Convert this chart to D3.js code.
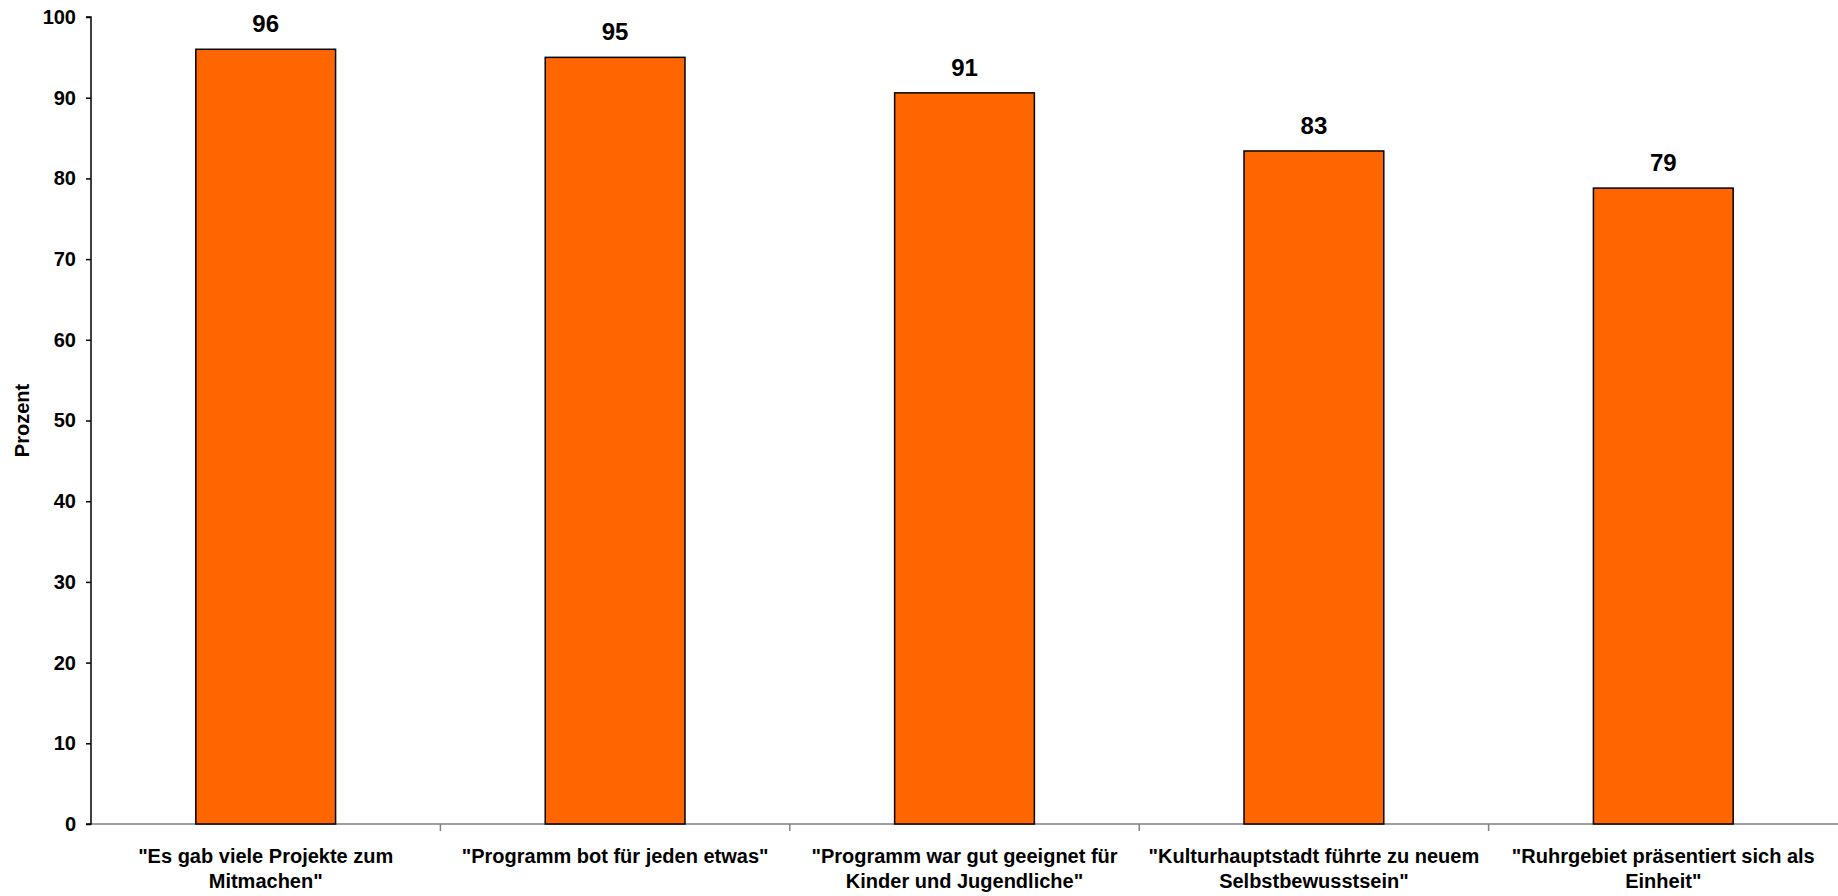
<!DOCTYPE html>
<html>
<head>
<meta charset="utf-8">
<script src="https://cdn.jsdelivr.net/npm/d3@7"></script>
<style>
  body { margin: 0; background: #fff; }
  text { font-family: "Liberation Sans", Arial, sans-serif; font-weight: bold; }
</style>
</head>
<body>
<svg id="BarChart"></svg>
<script>
// categories (line breaks as in the original)
var categories = [
    "\"Es gab viele Projekte zum\nMitmachen\"",
    "\"Programm bot für jeden etwas\"",
    "\"Programm war gut geeignet für\nKinder und Jugendliche\"",
    "\"Kulturhauptstadt führte zu neuem\nSelbstbewusstsein\"",
    "\"Ruhrgebiet präsentiert sich als\nEinheit\""
]
var values = [96, 95, 90.6, 83.4, 78.8]
var yTicks = [0, 10, 20, 30, 40, 50, 60, 70, 80, 90, 100]

var dataset = categories.map((c, i) => ({ category: c, value: values[i] }))

var dimensions = {
    width: 1838,
    height: 896,
    margin: {
        top: 17,
        bottom: 72,
        left: 91,
        right: 0
    }
}

var svg = d3.select("#BarChart")
            .attr("width", dimensions.width)
            .attr("height", dimensions.height)

var yScale = d3.scaleLinear()
               .domain([0, 100])
               .range([dimensions.height - dimensions.margin.bottom, dimensions.margin.top])

// full category slots (for boundary ticks and label centres)
var xSlots = d3.scaleBand()
               .domain(categories)
               .range([dimensions.margin.left, dimensions.width - dimensions.margin.right])
               .padding(0)

var xScale = d3.scaleBand()
               .domain(categories)
               .range([dimensions.margin.left, dimensions.width - dimensions.margin.right])
               .paddingInner(0.6)
               .paddingOuter(0.3)

var baseY = yScale(0)

// x axis line + boundary ticks
var xAxis = svg.append("g")
xAxis.append("line")
     .attr("x1", dimensions.margin.left)
     .attr("x2", dimensions.width - dimensions.margin.right)
     .attr("y1", baseY)
     .attr("y2", baseY)
     .attr("stroke", "#808080")
     .attr("stroke-width", 1.5)

xAxis.selectAll(".bound")
     .data(categories.slice(1))
     .enter()
     .append("line")
     .attr("x1", d => xSlots(d))
     .attr("x2", d => xSlots(d))
     .attr("y1", baseY)
     .attr("y2", baseY + 7)
     .attr("stroke", "#808080")
     .attr("stroke-width", 1.5)

// category labels
var labels = xAxis.selectAll(".cat")
                  .data(categories)
                  .enter()
                  .append("text")
                  .attr("text-anchor", "middle")
                  .attr("fill", "black")
                  .style("font-size", "20px")
                  .attr("transform", d => `translate(${xSlots(d) + xSlots.bandwidth() / 2}, ${baseY + 39})`)

labels.selectAll("tspan")
      .data(d => d.split("\n"))
      .enter()
      .append("tspan")
      .attr("x", 0)
      .attr("y", (d, i) => i * 25)
      .text(d => d)

// bars
svg.append("g")
   .selectAll("rect")
   .data(dataset)
   .enter()
   .append("rect")
   .attr("x", d => xScale(d.category))
   .attr("y", d => yScale(d.value))
   .attr("width", xScale.bandwidth())
   .attr("height", d => baseY - yScale(d.value))
   .attr("fill", "#FF6600")
   .attr("stroke", "black")
   .attr("stroke-width", 1.5)

// value labels
svg.append("g")
   .selectAll("text")
   .data(dataset)
   .enter()
   .append("text")
   .attr("x", d => xScale(d.category) + xScale.bandwidth() / 2)
   .attr("y", d => yScale(d.value) - 17)
   .attr("text-anchor", "middle")
   .attr("fill", "black")
   .style("font-size", "24px")
   .text(d => d3.format(".0f")(d.value))

// y axis
var yAxisGen = d3.axisLeft().scale(yScale)
                 .tickValues(yTicks)
                 .tickSize(5)
                 .tickPadding(10)
                 .tickFormat(d3.format("d"))

var yAxis = svg.append("g")
               .attr("transform", `translate(${dimensions.margin.left}, 0)`)
               .call(yAxisGen)

yAxis.select(".domain").attr("stroke", "black").attr("stroke-width", 1.5)
    .attr("d", `M-5,${yScale(100)}H0V${baseY}H-5`)
yAxis.selectAll(".tick line").attr("stroke", "black").attr("stroke-width", 1.5)
yAxis.selectAll(".tick text")
     .attr("fill", "black")
     .style("font-family", "'Liberation Sans', Arial, sans-serif")
     .style("font-weight", "bold")
     .style("font-size", "20px")

var yAxisText = svg.append("text")
                   .attr("transform", "rotate(-90)")
                   .attr("x", -(yScale(100) + baseY) / 2)
                   .attr("y", 29)
                   .attr("text-anchor", "middle")
                   .attr("fill", "black")
                   .style("font-size", "20px")
                   .text("Prozent")
</script>
</body>
</html>
